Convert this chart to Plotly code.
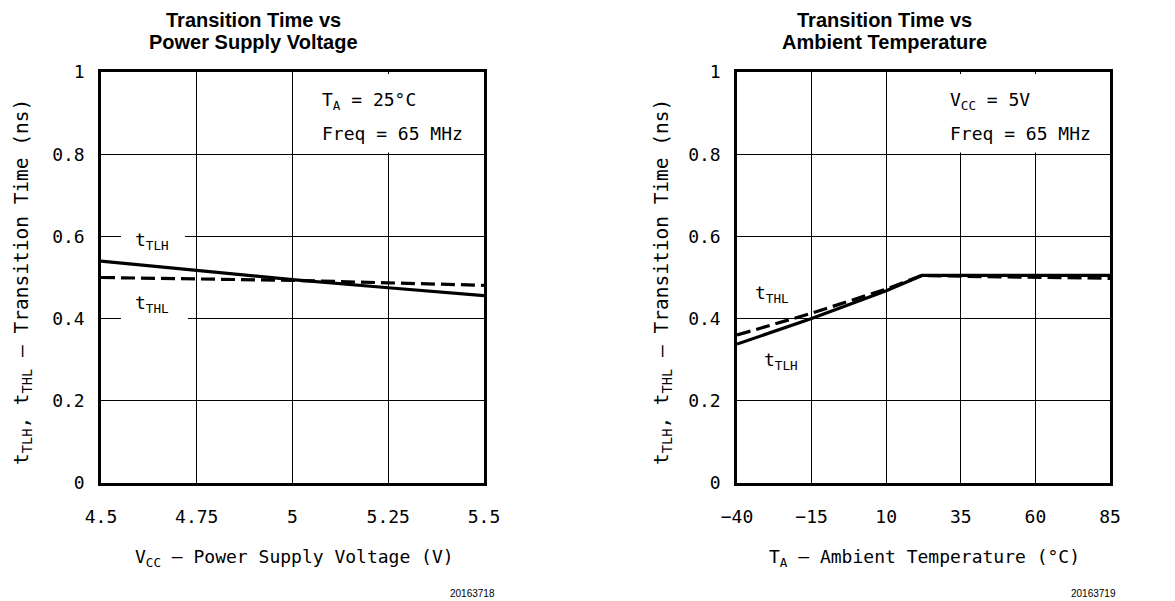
import plotly.graph_objects as go

# ---- data ----
vcc = [4.5, 4.75, 5.0, 5.25, 5.5]
tlh_vcc = [0.54, 0.517, 0.495, 0.475, 0.456]
thl_vcc = [0.50, 0.497, 0.493, 0.487, 0.481]

temp = [-40, -15, 10, 22, 35, 60, 85]
tlh_temp = [0.338, 0.40, 0.468, 0.505, 0.505, 0.505, 0.505]
thl_temp = [0.36, 0.413, 0.472, 0.505, 0.503, 0.501, 0.498]

vcc_ticks = [4.5, 4.75, 5, 5.25, 5.5]
vcc_ticklabels = ["4.5", "4.75", "5", "5.25", "5.5"]
temp_ticks = [-40, -15, 10, 35, 60, 85]
temp_ticklabels = ["\u221240", "\u221215", "10", "35", "60", "85"]
y_ticks = [0, 0.2, 0.4, 0.6, 0.8, 1]
y_ticklabels = ["0", "0.2", "0.4", "0.6", "0.8", "1"]

W, H = 1175, 601
MONO = "DejaVu Sans Mono"
SANS = "Liberation Sans"

fig = go.Figure()
line_w = 3.2
fig.add_trace(go.Scatter(x=vcc, y=tlh_vcc, mode="lines", line=dict(color="black", width=line_w),
                         xaxis="x", yaxis="y", showlegend=False))
fig.add_trace(go.Scatter(x=vcc, y=thl_vcc, mode="lines", line=dict(color="black", width=line_w, dash="14px,6px"),
                         xaxis="x", yaxis="y", showlegend=False))
fig.add_trace(go.Scatter(x=temp, y=tlh_temp, mode="lines", line=dict(color="black", width=line_w),
                         xaxis="x2", yaxis="y2", showlegend=False))
fig.add_trace(go.Scatter(x=temp, y=thl_temp, mode="lines", line=dict(color="black", width=line_w, dash="14px,6px"),
                         xaxis="x2", yaxis="y2", showlegend=False))

ydom = [1 - 483 / H, 1 - 72 / H]
common_axis = dict(showgrid=True, gridcolor="black", gridwidth=1, showline=True, linecolor="black",
                   linewidth=2.5, mirror=True, zeroline=False, ticks="", automargin=False,
                   tickfont=dict(family=MONO, size=18, color="black"))

fig.update_layout(
    width=W, height=H, margin=dict(l=0, r=0, t=0, b=0, autoexpand=False),
    paper_bgcolor="white", plot_bgcolor="white",
    xaxis=dict(domain=[101 / W, 484 / W], range=[4.5, 5.5], tickvals=vcc_ticks, ticktext=vcc_ticklabels,
               anchor="y", ticklabelstandoff=16, **common_axis),
    yaxis=dict(domain=ydom, range=[0, 1], tickvals=y_ticks, ticktext=y_ticklabels,
               anchor="x", ticklabelstandoff=10, **common_axis),
    xaxis2=dict(domain=[737 / W, 1110 / W], range=[-40, 85], tickvals=temp_ticks, ticktext=temp_ticklabels,
                anchor="y2", ticklabelstandoff=16, **common_axis),
    yaxis2=dict(domain=ydom, range=[0, 1], tickvals=y_ticks, ticktext=y_ticklabels,
                anchor="x2", ticklabelstandoff=10, **common_axis),
)

# white masks (cover gridlines behind text)
shapes = [
    dict(type="rect", xref="x", yref="y", x0=5.1, x1=5.493, y0=0.804, y1=0.995,
         fillcolor="white", line=dict(width=0), layer="between"),
    dict(type="rect", xref="x2", yref="y2", x0=20, x1=84.2, y0=0.804, y1=0.995,
         fillcolor="white", line=dict(width=0), layer="between"),
    dict(type="line", xref="x", yref="y", x0=4.552, x1=4.719, y0=0.6, y1=0.6,
         line=dict(color="white", width=4), layer="between"),
    dict(type="line", xref="x", yref="y", x0=4.552, x1=4.727, y0=0.4, y1=0.4,
         line=dict(color="white", width=4), layer="between"),
]
fig.update_layout(shapes=shapes)

ann = []
def txt(text, x, y, xref, yref, size=18, family=MONO, xanchor="center", yanchor="middle", angle=0, bold=False):
    ann.append(dict(text=text, x=x, y=y, xref=xref, yref=yref, showarrow=False, xanchor=xanchor,
                    yanchor=yanchor, textangle=angle,
                    font=dict(family=family, size=size, color="black",
                              weight="bold" if bold else "normal")))

# titles (two lines each)
txt("Transition Time vs", 253 / W, 1 - 20 / H, "paper", "paper", size=20, family=SANS, bold=True)
txt("Power Supply Voltage", 253 / W, 1 - 42 / H, "paper", "paper", size=20, family=SANS, bold=True)
txt("Transition Time vs", 884 / W, 1 - 20 / H, "paper", "paper", size=20, family=SANS, bold=True)
txt("Ambient Temperature", 884 / W, 1 - 42 / H, "paper", "paper", size=20, family=SANS, bold=True)

# axis titles
ytitle = "t<sub>TLH</sub>, t<sub>THL</sub> \u2013 Transition Time (ns)"
txt(ytitle, 22 / W, 1 - 282 / H, "paper", "paper", size=19.5, angle=-90)
txt(ytitle, 662 / W, 1 - 282 / H, "paper", "paper", size=19.5, angle=-90)
txt("V<sub>CC</sub> \u2013 Power Supply Voltage (V)", 294 / W, 1 - 558 / H, "paper", "paper")
txt("T<sub>A</sub> \u2013 Ambient Temperature (°C)", 924 / W, 1 - 558 / H, "paper", "paper")

# conditions
txt("T<sub>A</sub> = 25°C", 5.072, 0.93, "x", "y", xanchor="left")
txt("Freq = 65 MHz", 5.072, 0.85, "x", "y", xanchor="left")
txt("V<sub>CC</sub> = 5V", 30.7, 0.93, "x2", "y2", xanchor="left")
txt("Freq = 65 MHz", 30.7, 0.85, "x2", "y2", xanchor="left")

# curve labels
txt("t<sub>TLH</sub>", 4.633, 0.59, "x", "y")
txt("t<sub>THL</sub>", 4.633, 0.435, "x", "y")
txt("t<sub>THL</sub>", -28.3, 0.461, "x2", "y2")
txt("t<sub>TLH</sub>", -25.3, 0.298, "x2", "y2")

# footnotes
txt("20163718", 497 / W, 1 - 593 / H, "paper", "paper", size=10, family=SANS, xanchor="right")
txt("20163719", 1118 / W, 1 - 593 / H, "paper", "paper", size=10, family=SANS, xanchor="right")

fig.update_layout(annotations=ann)
fig.write_html("out.html", config={"displayModeBar": False},
               post_script="document.body.style.margin='0';document.body.style.overflow='hidden';")
